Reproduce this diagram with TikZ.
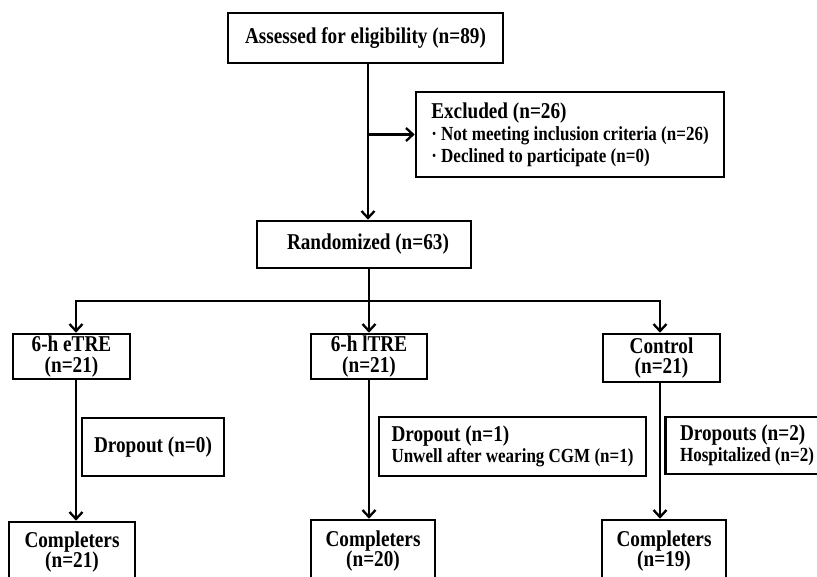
\documentclass[tikz,border=0pt]{standalone}
\usepackage{fontspec}
\setmainfont{Liberation Serif}[FakeStretch=0.85]
\usetikzlibrary{arrows.meta}
\newcommand{\bigf}{\fontsize{22.6}{20.5}\selectfont}
\newcommand{\subf}{\fontsize{20}{20.5}\selectfont}
\begin{document}
\begin{tikzpicture}[x=1pt,y=-1pt,
  box/.style={draw, line width=2.6pt, inner sep=0pt, font=\bfseries\bigf, align=center},
  arr/.style={line width=2.3pt, -{Straight Barb[length=7pt,width=13pt,line width=2.3pt]}},
  ln/.style={line width=2.3pt, line cap=rect}]
\useasboundingbox (0,0) rectangle (817,576);
\fill[white] (0,0) rectangle (817,576);

\node[box, minimum width=275pt, minimum height=50pt] (assess) at (365.5,38) {Assessed for eligibility (n=89)};
\node[box, minimum width=308pt, minimum height=85pt, align=left] (excl) at (570,134.5)
  {Excluded (n=26)\\[1.5pt]{\subf · Not meeting inclusion criteria (n=26)}\\[1.5pt]{\subf · Declined to participate (n=0)}};
\node[box, minimum width=214pt, minimum height=47pt] (rand) at (364,244.5) {\hspace*{8pt}Randomized (n=63)};

\node[box, minimum width=117pt, minimum height=45pt] (etre) at (71.5,356.5) {6-h eTRE\\(n=21)};
\node[box, minimum width=116pt, minimum height=45pt] (ltre) at (369,356.5) {6-h lTRE\\(n=21)};
\node[box, minimum width=117pt, minimum height=48pt] (ctrl) at (661.5,358) {Control\\(n=21)};

\node[box, minimum width=142pt, minimum height=58pt] (d0) at (153,447) {Dropout (n=0)};
\node[box, minimum width=267pt, minimum height=59pt, align=left] (d1) at (512.5,446.5)
  {Dropout (n=1)\\{\subf Unwell after wearing CGM (n=1)}};
\node[box, minimum width=163pt, minimum height=57pt, align=left] (d2) at (747,445.5)
  {Dropouts (n=2)\\{\subf Hospitalized (n=2)}};

\node[box, minimum width=126pt, minimum height=60pt] (c1) at (72,552) {Completers\\(n=21)};
\node[box, minimum width=124pt, minimum height=62pt] (c2) at (373,551) {Completers\\(n=20)};
\node[box, minimum width=124pt, minimum height=62pt] (c3) at (664,551) {Completers\\(n=19)};

\coordinate (colM) at (368,0);
\coordinate (xa) at (76,301);
\coordinate (xb) at (369,301);
\coordinate (xc) at (660,301);

\draw[arr] (colM |- assess.south) -- (colM |- rand.north);
\draw[arr] (colM |- excl.west) -- (excl.west);
\draw[ln] (xb |- rand.south) -- (xb);
\draw[ln] (xa) -- (xc);
\draw[arr] (xa) -- (xa |- etre.north);
\draw[arr] (xb) -- (xb |- ltre.north);
\draw[arr] (xc) -- (xc |- ctrl.north);
\draw[arr] (xa |- etre.south) -- (xa |- c1.north);
\draw[arr] (xb |- ltre.south) -- (xb |- c2.north);
\draw[arr] (xc |- ctrl.south) -- (xc |- c3.north);
\end{tikzpicture}
\end{document}
